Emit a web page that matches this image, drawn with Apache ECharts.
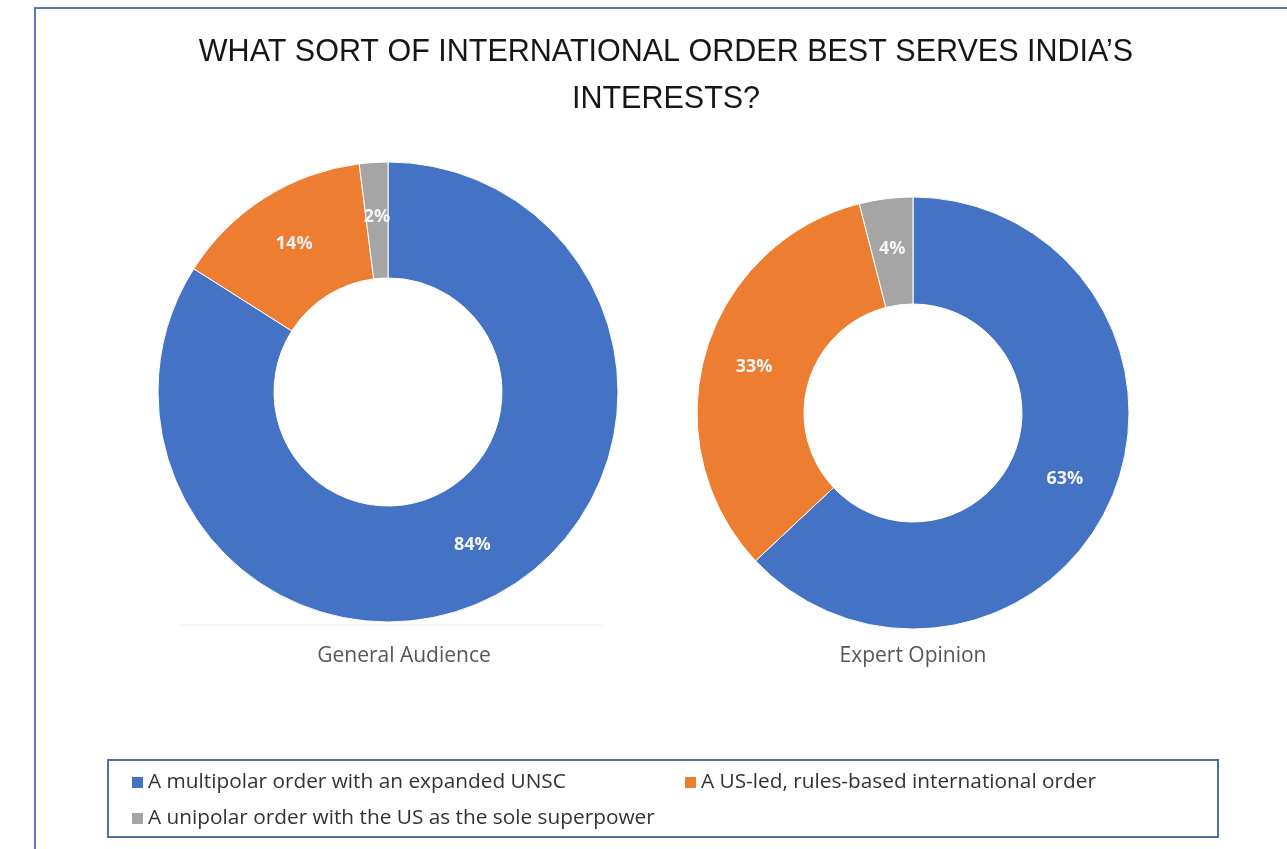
<!DOCTYPE html>
<html>
<head>
<meta charset="utf-8">
<script src="https://cdn.jsdelivr.net/npm/echarts@6/dist/echarts.min.js"></script>
<style>
  html, body { margin: 0; padding: 0; background: #ffffff; }
  #chart { width: 1287px; height: 849px; }
</style>
</head>
<body>
<div id="chart"></div>
<script>
// Answer options (legend order)
const categories = [
  'A multipolar order with an expanded UNSC',
  'A US-led, rules-based international order',
  'A unipolar order with the US as the sole superpower'
];
// Share of respondents, percent
const generalAudience = [84, 14, 2];
const expertOpinion = [63, 33, 4];
const panelNames = ['General Audience', 'Expert Opinion'];
const colors = ['#4472C4', '#ED7D31', '#A5A5A5'];

const chart = echarts.init(document.getElementById('chart'), null, { renderer: 'canvas' });

function donut(name, values, center, radius) {
  return {
    name: name,
    type: 'pie',
    center: center,
    radius: radius,
    startAngle: 90,
    clockwise: true,
    avoidLabelOverlap: false,
    silent: true,
    itemStyle: { borderColor: '#ffffff', borderWidth: 1 },
    label: {
      show: true,
      position: 'inside',
      formatter: '{c}%',
      color: '#f4f4f4',
      fontFamily: 'Open Sans',
      fontWeight: 'bold',
      fontSize: 18
    },
    labelLine: { show: false },
    data: categories.map((c, i) => ({ name: c, value: values[i] }))
  };
}

const legendBase = {
  orient: 'horizontal',
  icon: 'rect',
  itemWidth: 13,
  itemHeight: 13,
  itemGap: 5,
  padding: 0,
  selectedMode: false,
  textStyle: { color: '#333333', fontFamily: 'Open Sans', fontSize: 20.8, padding: [0, 0, 0, -1] }
};

chart.setOption({
  backgroundColor: '#ffffff',
  color: colors,
  animation: false,
  title: {
    text: 'WHAT SORT OF INTERNATIONAL ORDER BEST SERVES INDIA\u2019S\nINTERESTS?',
    left: 661,
    top: 24,
    textAlign: 'center',
    textStyle: {
      fontFamily: 'Liberation Sans',
      fontWeight: 'normal',
      fontSize: 30.5,
      lineHeight: 47,
      color: '#161616'
    }
  },
  legend: [
    Object.assign({}, legendBase, { data: [categories[0]], left: 130, top: 772 }),
    Object.assign({}, legendBase, { data: [categories[1]], left: 683, top: 772 }),
    Object.assign({}, legendBase, { data: [categories[2]], left: 130, top: 808 })
  ],
  graphic: [
    {
      type: 'rect',
      shape: { x: 35, y: 8, width: 1300, height: 900 },
      style: { fill: 'none', stroke: '#5b79b3', lineWidth: 2 },
      silent: true
    },
    {
      type: 'rect',
      shape: { x: 108, y: 760, width: 1110, height: 77 },
      style: { fill: 'none', stroke: '#4f6ea8', lineWidth: 2 },
      silent: true
    },
    {
      type: 'line',
      shape: { x1: 178, y1: 625, x2: 602, y2: 625 },
      style: { stroke: '#ececec', lineWidth: 1 },
      silent: true
    },
    {
      type: 'text',
      style: {
        text: panelNames[0], x: 404, y: 656, align: 'center', verticalAlign: 'middle',
        fill: '#555555', font: '21px "Open Sans"'
      },
      silent: true
    },
    {
      type: 'text',
      style: {
        text: panelNames[1], x: 913, y: 656, align: 'center', verticalAlign: 'middle',
        fill: '#555555', font: '21px "Open Sans"'
      },
      silent: true
    }
  ],
  series: [
    donut(panelNames[0], generalAudience, [388, 392], [114, 230]),
    donut(panelNames[1], expertOpinion, [913, 413], [109, 216])
  ]
});
</script>
</body>
</html>
